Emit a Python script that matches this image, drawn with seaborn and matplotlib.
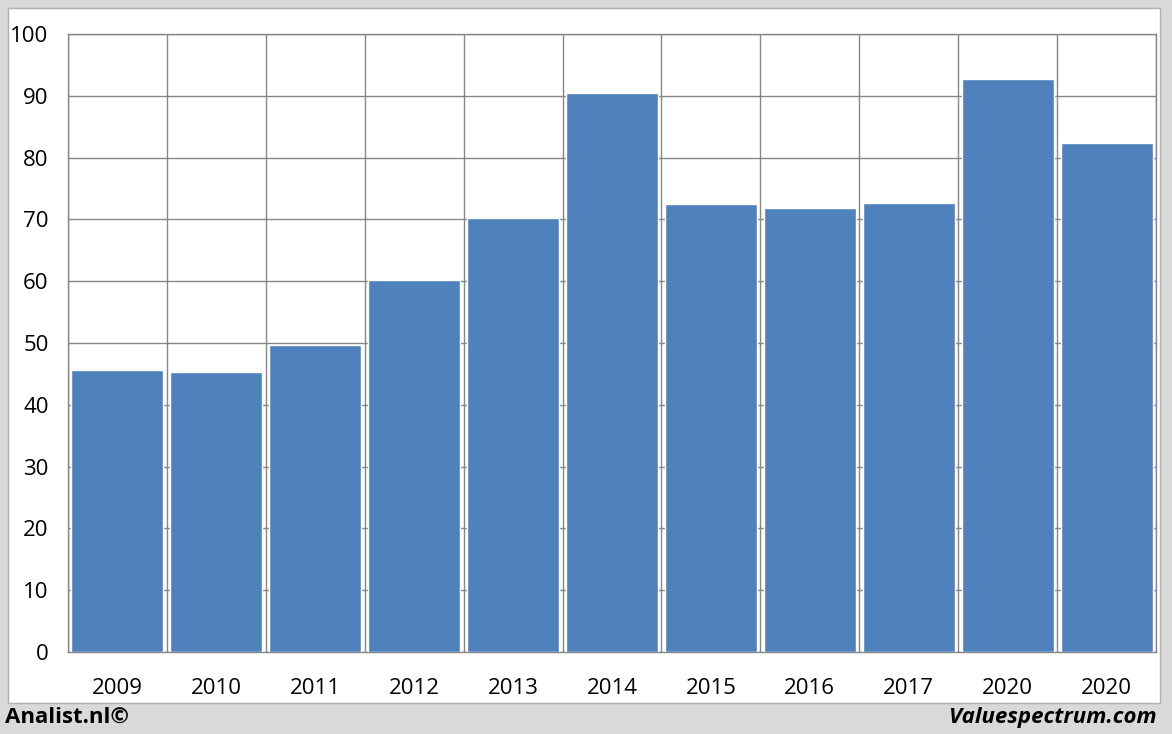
import matplotlib
matplotlib.use("Agg")
import matplotlib.pyplot as plt
from matplotlib.patches import Rectangle
import pandas as pd
import seaborn as sns

years = ["2009", "2010", "2011", "2012", "2013", "2014", "2015", "2016", "2017", "2020", "2020"]
values = [45.6, 45.3, 49.7, 60.2, 70.2, 90.5, 72.5, 71.8, 72.7, 92.7, 82.4]
y_ticks = [0, 10, 20, 30, 40, 50, 60, 70, 80, 90, 100]

df = pd.DataFrame({"slot": [str(i) for i in range(len(years))], "value": values})

sns.set_style("white")
plt.rcParams["font.family"] = ["Open Sans", "DejaVu Sans"]
plt.rcParams["text.color"] = "black"
plt.rcParams["xtick.color"] = "black"
plt.rcParams["ytick.color"] = "black"

fig = plt.figure(figsize=(11.72, 7.34), dpi=100)
fig.patch.set_facecolor("#d9d9d9")
# white chart panel inside the grey frame
fig.patches.append(Rectangle((8 / 1172, 31 / 734), 1152 / 1172, 695 / 734,
                             transform=fig.transFigure, facecolor="white",
                             edgecolor="#b0b0b0", linewidth=1, zorder=-10))

ax = fig.add_axes([68 / 1172, 82 / 734, 1088 / 1172, 618 / 734])
sns.barplot(data=df, x="slot", y="value", color="#4f81bd", saturation=1,
            width=0.93, ax=ax, zorder=3)

ax.set_xlim(-0.5, len(years) - 0.5)
ax.set_ylim(0, 100)
ax.set_yticks(y_ticks)
ax.set_xticks(range(len(years)))
ax.set_xticklabels(years)
ax.set_xticks([i - 0.5 for i in range(len(years) + 1)], minor=True)
ax.tick_params(axis="x", which="major", length=0, pad=19, labelsize=16, labelcolor="black")
ax.tick_params(axis="x", which="minor", length=8, color="#868686", width=1)
ax.tick_params(axis="y", length=8, color="#868686", width=1, labelsize=16, pad=6,
               labelcolor="black")
ax.grid(axis="y", color="#868686", linewidth=1, zorder=0)
ax.grid(axis="x", which="minor", color="#868686", linewidth=1, zorder=0)
ax.set_axisbelow(True)
for side in ["left", "bottom", "top", "right"]:
    ax.spines[side].set_color("#868686")
    ax.spines[side].set_linewidth(1)
ax.set_xlabel("")
ax.set_ylabel("")

fig.text(5 / 1172, 17 / 734, "Analist.nl©", fontsize=16, fontweight="bold",
         va="center", ha="left", color="black")
fig.text(1157 / 1172, 17 / 734, "Valuespectrum.com", fontsize=16, fontweight="bold",
         style="italic", va="center", ha="right", color="black")

fig.savefig("out.png", dpi=100, facecolor=fig.get_facecolor())
